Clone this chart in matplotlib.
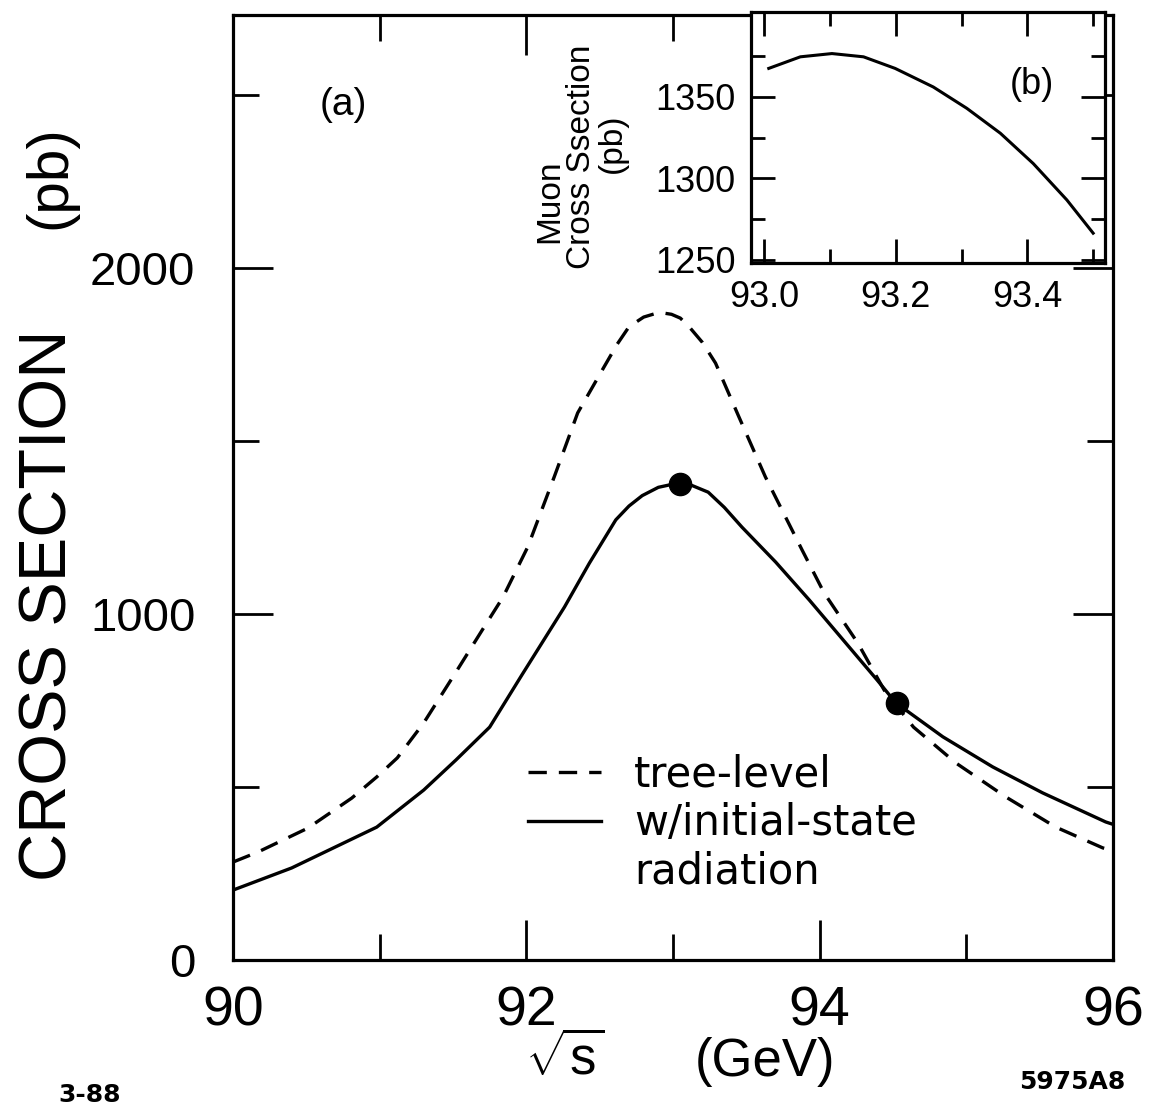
import matplotlib
matplotlib.use("Agg")
import matplotlib.pyplot as plt
from matplotlib.lines import Line2D

plt.rcParams['font.family'] = ['Liberation Sans', 'DejaVu Sans']
plt.rcParams['mathtext.fontset'] = 'custom'
plt.rcParams['mathtext.rm'] = 'Liberation Sans'
plt.rcParams['mathtext.it'] = 'Liberation Sans'

# ---- data ----
tree_x = [90.00, 90.17, 90.51, 90.81, 90.98, 91.12, 91.30, 91.52, 91.70, 91.84,
          92.01, 92.19, 92.35, 92.53, 92.62, 92.70, 92.80, 92.87, 92.93, 92.99,
          93.05, 93.11, 93.20, 93.29, 93.45, 93.63, 93.88, 94.03, 94.26, 94.44,
          94.64, 94.93, 95.27, 95.61, 95.93, 96.00]
tree_y = [283, 312, 381, 468, 529, 584, 685, 832, 954, 1048,
          1194, 1396, 1581, 1714, 1780, 1830, 1858, 1867, 1870, 1866,
          1855, 1830, 1785, 1725, 1569, 1396, 1185, 1061, 916, 780,
          673, 569, 471, 384, 324, 316]

isr_x = [90.00, 90.40, 90.98, 91.30, 91.52, 91.75, 91.97, 92.26, 92.43, 92.61,
         92.70, 92.79, 92.90, 93.02, 93.12, 93.24, 93.35, 93.47, 93.70, 93.93,
         94.16, 94.39, 94.52, 94.84, 95.18, 95.52, 95.95, 96.00]
isr_y = [202, 266, 384, 491, 578, 673, 824, 1020, 1147, 1272,
         1312, 1342, 1366, 1377, 1373, 1352, 1308, 1251, 1150, 1040,
         925, 810, 743, 645, 558, 483, 399, 392]

dot_x = [93.05, 94.53]
dot_y = [1376, 744]

inset_x = [93.007, 93.055, 93.103, 93.151, 93.199, 93.257, 93.308, 93.359,
           93.409, 93.460, 93.500]
inset_y = [1367.4, 1374.5, 1376.5, 1374.5, 1367.4, 1356.0, 1342.9, 1327.6,
           1309.0, 1286.7, 1266.3]

main_xticks = [90, 92, 94, 96]
main_xminor = [91, 93, 95]
main_yticks = [0, 1000, 2000]
main_yminor = [500, 1500, 2500]
inset_xticks = [93.0, 93.2, 93.4]
inset_xminor = [93.1, 93.3, 93.5]
inset_yticks = [1250, 1300, 1350]
inset_yminor = [1275, 1325, 1375]

legend_labels = ['tree-level', 'w/initial-state', 'radiation']

W, H = 1159, 1106
fig = plt.figure(figsize=(W / 100, H / 100), dpi=100)

def fx(px):
    return px / W

def fy(py):
    return 1 - py / H

# ---- main axes ----
ax = fig.add_axes([fx(233), fy(960), 880 / W, 945 / H])
ax.set_xlim(90, 96)
ax.set_ylim(0, 2731)
lw = 2.4
l_tree, = ax.plot(tree_x, tree_y, color='black', lw=lw, linestyle=(0, (5.5, 3.6)))
l_isr, = ax.plot(isr_x, isr_y, color='black', lw=lw)
ax.plot(dot_x, dot_y, 'o', color='black', markersize=16, zorder=5)

ax.set_xticks(main_xticks)
ax.set_xticks(main_xminor, minor=True)
ax.set_yticks(main_yticks)
ax.set_yticks(main_yminor, minor=True)
ax.set_xticklabels([str(v) for v in main_xticks])
ax.set_yticklabels([str(v) for v in main_yticks])
ax.tick_params(which='both', direction='in', top=True, right=True, width=2.0)
ax.tick_params(which='major', length=29)
ax.tick_params(which='minor', length=19)
ax.tick_params(axis='x', which='major', labelsize=40, pad=18)
ax.tick_params(axis='y', which='major', labelsize=34, pad=27)
for s in ax.spines.values():
    s.set_linewidth(2.3)

ax.legend(handles=[l_tree, l_isr, Line2D([], [], color='none')],
          labels=legend_labels, loc='upper left',
          bbox_to_anchor=(0.335, 0.218), frameon=False,
          prop={'family': 'DejaVu Sans', 'size': 30},
          handlelength=1.75, handletextpad=0.8, labelspacing=0.15,
          borderpad=0, borderaxespad=0)

# labels
fig.text(fx(50), fy(605), 'CROSS SECTION', rotation=90,
         ha='center', va='center', fontsize=48)
fig.text(fx(50), fy(177), '(pb)', rotation=90,
         ha='center', va='center', fontsize=42)
fig.text(fx(565), fy(1060), r'$\sqrt{s}$', ha='center', va='center', fontsize=38)
fig.text(fx(765), fy(1062), '(GeV)', ha='center', va='center', fontsize=38)
fig.text(fx(343), fy(105), '(a)', ha='center', va='center', fontsize=28)
fig.text(fx(90), fy(1095), '3-88', ha='center', va='center', fontsize=18,
         family='DejaVu Sans', weight='bold')
fig.text(fx(1072), fy(1082), '5975A8', ha='center', va='center', fontsize=18,
         family='DejaVu Sans', weight='bold')

# ---- inset ----
ai = fig.add_axes([fx(751), fy(263), 354 / W, 251 / H])
ai.set_facecolor('white')
ai.set_xlim(92.980, 93.518)
ai.set_ylim(1248, 1402)
ai.plot(inset_x, inset_y, color='black', lw=2.2)
ai.set_xticks(inset_xticks)
ai.set_xticks(inset_xminor, minor=True)
ai.set_yticks(inset_yticks)
ai.set_yticks(inset_yminor, minor=True)
ai.set_xticklabels(['%.1f' % v for v in inset_xticks])
ai.set_yticklabels([str(v) for v in inset_yticks])
ai.tick_params(which='both', direction='in', top=True, right=True, width=2.0)
ai.tick_params(which='major', length=17)
ai.tick_params(which='minor', length=10)
ai.tick_params(axis='x', which='major', labelsize=26, pad=12)
ai.tick_params(axis='y', which='major', labelsize=26, pad=11)
for s in ai.spines.values():
    s.set_linewidth(2.3)
fig.text(fx(550), fy(201), 'Muon', rotation=90,
         ha='center', va='center', fontsize=24)
fig.text(fx(581), fy(157), 'Cross Ssection', rotation=90,
         ha='center', va='center', fontsize=24)
fig.text(fx(612), fy(143), '(pb)', rotation=90,
         ha='center', va='center', fontsize=24)
fig.text(fx(1032), fy(85), '(b)', ha='center', va='center', fontsize=26)

fig.savefig('out.png', dpi=100)
